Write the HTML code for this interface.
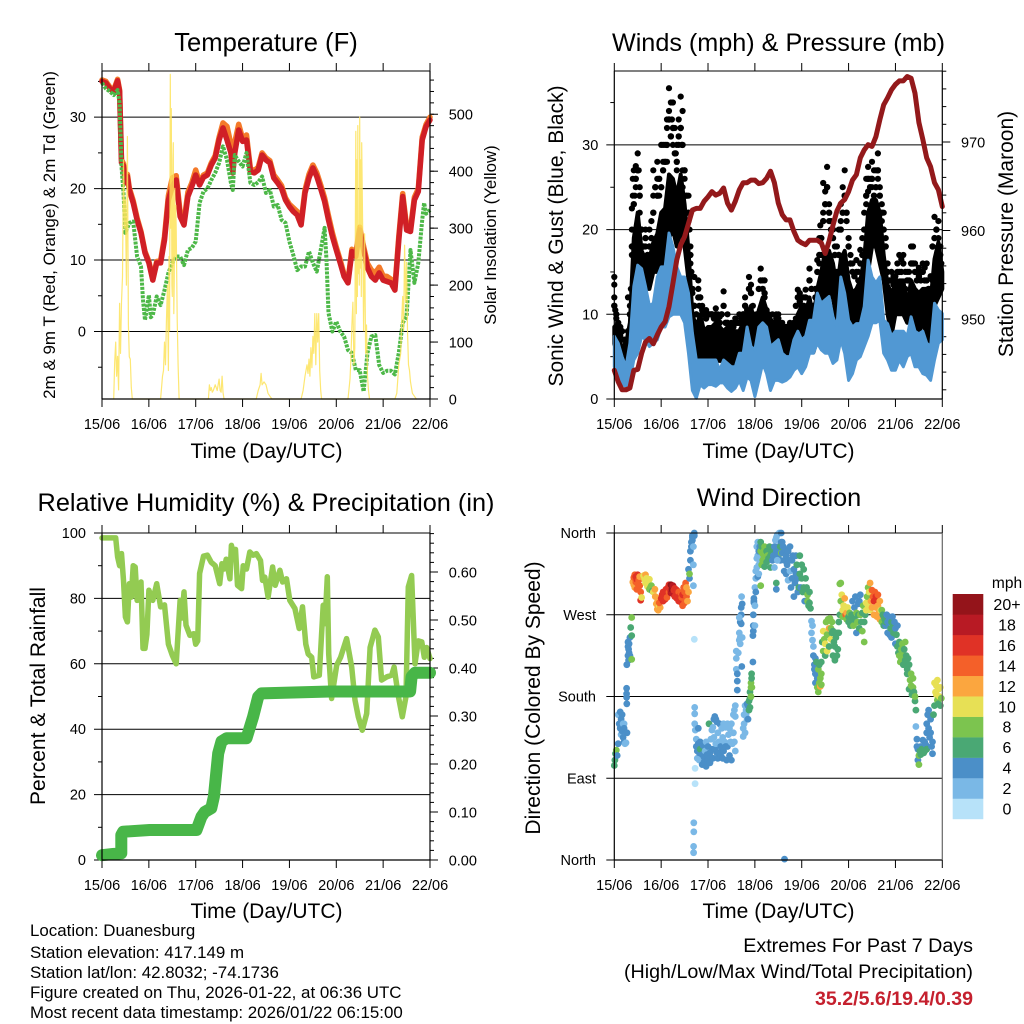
<!DOCTYPE html>
<html lang="en">
<head>
<meta charset="utf-8">
<title>Station Weather Summary</title>
<style>
html,body{margin:0;padding:0;background:#fff;width:1024px;height:1024px;overflow:hidden}
svg{display:block}
text{font-family:"Liberation Sans",Arial,sans-serif;fill:#000}
</style>
</head>
<body>
<svg id="figure" xmlns="http://www.w3.org/2000/svg" width="1024" height="1024" viewBox="0 0 1024 1024">
  <rect x="0" y="0" width="1024" height="1024" fill="#fff"/>
  <g id="p1"></g>
  <g id="p2"></g>
  <g id="p3"></g>
  <g id="p4"></g>
  <g id="cb"></g>

  <text x="266" y="51" font-size="25.6" text-anchor="middle">Temperature (F)</text>
  <text x="778.5" y="51" font-size="25.2" text-anchor="middle">Winds (mph) &amp; Pressure (mb)</text>
  <text x="266" y="511" font-size="25.3" text-anchor="middle">Relative Humidity (%) &amp; Precipitation (in)</text>
  <text x="779" y="506" font-size="25.3" text-anchor="middle">Wind Direction</text>

  <text x="266.5" y="458" font-size="21" text-anchor="middle">Time (Day/UTC)</text>
  <text x="778.5" y="458" font-size="21" text-anchor="middle">Time (Day/UTC)</text>
  <text x="266.5" y="918" font-size="21" text-anchor="middle">Time (Day/UTC)</text>
  <text x="778.5" y="918" font-size="21" text-anchor="middle">Time (Day/UTC)</text>

  <text transform="translate(55,235) rotate(-90)" font-size="17" text-anchor="middle">2m &amp; 9m T (Red, Orange) &amp; 2m Td (Green)</text>
  <text transform="translate(496,235) rotate(-90)" font-size="16.8" text-anchor="middle">Solar Insolation (Yellow)</text>
  <text transform="translate(563,236) rotate(-90)" font-size="21" text-anchor="middle">Sonic Wind &amp; Gust (Blue, Black)</text>
  <text transform="translate(1013,234) rotate(-90)" font-size="21" text-anchor="middle">Station Pressure (Maroon)</text>
  <text transform="translate(45,696) rotate(-90)" font-size="21" text-anchor="middle">Percent &amp; Total Rainfall</text>
  <text transform="translate(540,698) rotate(-90)" font-size="21" text-anchor="middle">Direction (Colored By Speed)</text>

  <text x="30" y="936" font-size="16.9">Location: Duanesburg</text>
  <text x="30" y="958" font-size="16.9">Station elevation: 417.149 m</text>
  <text x="30" y="978" font-size="16.9">Station lat/lon: 42.8032; -74.1736</text>
  <text x="30" y="998" font-size="16.9">Figure created on Thu, 2026-01-22, at 06:36 UTC</text>
  <text x="30" y="1018" font-size="16.9">Most recent data timestamp: 2026/01/22 06:15:00</text>
  <text x="973" y="952" font-size="19.7" text-anchor="end">Extremes For Past 7 Days</text>
  <text x="973" y="978" font-size="19.7" text-anchor="end">(High/Low/Max Wind/Total Precipitation)</text>
  <text x="973" y="1005" font-size="19.6" font-weight="bold" text-anchor="end" style="fill:#c5202e">35.2/5.6/19.4/0.39</text>
</svg>
<script>
const dayLabels = ['15/06','16/06','17/06','18/06','19/06','20/06','21/06','22/06'];
const tempTicks = [0,10,20,30];
const tempMinorTicks = [-5,5,15,25,35];
const solarTicks = [0,100,200,300,400,500];
const mphTicks = [0,10,20,30];
const mphMinorTicks = [5,15,25,35];
const pressureTicks = [950,960,970];
const rhTicks = [0,20,40,60,80,100];
const rhMinorTicks = [10,30,50,70,90];
const precipTicks = [0,0.1,0.2,0.3,0.4,0.5,0.6];
const precipLabels = ['0.00','0.10','0.20','0.30','0.40','0.50','0.60'];
const directionTicks = [0,90,180,270,360];
const directionLabels = ['North','East','South','West','North'];
const speedLabels = ['0','2','4','6','8','10','12','14','16','18','20+'];
const speedColors = ['#b7e2f9','#7ab8e6','#4b8fc8','#4aa874','#7cc44f','#e7e055','#fba63f','#f46029','#e03226','#b81a24','#94141a'];

const tempHours = [
0,2,4,6,8,9,10,11,12,13,
14,16,18,20,22,24,26,28,30,32,
34,36,38,40,42,44,46,48,50,52,
54,56,58,60,62,64,66,67,68,70,
72,74,76,78,80,82,84,86,88,90,
92,94,96,98,100,102,104,106,108,110,
112,114,116,118,120,122,124,126,128,130,
132,134,136,138,140,142,144,146,148,150,
152,154,156,158,160,162,164,166,168];
const temp2m = [
35,34.8,34,33.6,35.1,33.6,23.6,23.2,20.8,21.7,
19.8,18,15.6,13.8,11,9.6,7.2,9.6,9.6,12.8,
18.4,20.3,21.2,16.1,14.9,18.9,20.3,21.9,20.5,21.6,
21.9,23.3,24.3,26.8,28.5,26.8,25,22.2,25,28.2,
26.6,26.8,22.4,22.2,22.6,24.7,24,23.6,21.5,20.8,
20,18.4,17.5,16.8,16.3,14.9,19.4,21.5,22.9,21.7,
20,18.2,15.6,13.3,11.4,9.6,7.7,6.8,11.2,10.5,
14.2,11.4,8.9,7.7,7.2,8.2,7.2,7,6.8,5.8,
12.8,18.9,14.2,14,18.4,19.6,26.8,28.7,29.6];
const temp9m = [
35.2,35,34.2,33.8,35.3,33.8,24,23.5,21.2,22,
20.1,18.3,15.9,14,11.2,9.8,7.4,9.8,9.9,13.3,
19,21.5,21.8,16.7,15.4,19.5,20.8,22.6,20.8,21.9,
22.2,23.6,24.6,27.2,29.2,28.7,26.2,24,26.5,29,
27,27.5,22.8,22.5,23,25,24.3,23.9,21.9,21.2,
20.4,18.7,17.8,17.3,16.8,15.3,19.8,22,23.3,22.2,
20.5,18.7,16.2,13.8,11.8,10,8,7.1,11.5,10.9,
14.6,11.9,9.5,8.6,8.2,9,7.8,7.7,7.3,6.2,
13.3,19.3,14.7,14.4,18.8,20,27.2,29,30];
const dewHours = [
0,2,4,6,8,9,10,11,12,14,
16,18,20,21,22,24,25,26,28,30,
32,34,36,38,40,42,44,46,48,50,
52,54,56,58,60,62,64,66,67,68,
70,72,74,76,78,80,82,84,86,88,
90,92,94,96,98,100,102,104,106,108,
110,112,114,115,116,118,120,122,124,126,
128,130,132,134,136,138,140,142,144,146,
148,150,152,154,156,158,160,162,164,165,166,168];
const dewPoint = [
34.8,34,33.6,33.1,33.8,32,23.1,19.4,13.8,15.2,
15.4,10.5,9.1,4.4,1.6,5.1,2,2.3,4.9,3.7,
5.8,8.2,9.6,10.5,10.5,9.3,11.4,11.7,12.6,18,
19.6,20,21.2,22.2,23.6,25.9,24,20.8,19.8,24.7,
23.8,23.1,25,20.8,20.5,20.9,21.7,19.4,19.8,17.5,
17.7,15.6,15.2,12.6,10.7,8.6,9.1,9.1,11.2,9.6,
8.4,11.4,14.5,10,2.6,0,1.4,0,-0.7,-2.6,
-3,-5.4,-5.4,-8.4,-3,-0.7,-0.5,-4.7,-5.8,-5.5,
-5.5,-6,-3,1.2,2.1,11.4,6.8,9.6,15.6,18,16.5,17];
const solarHours = [
6,6.5,7,7.5,8,8.5,9,9.5,10,10.5,11,11.5,12,12.5,13,13.5,14,14.5,15,15.5,
30,31,31.5,32,32.5,33,33.5,34,34.3,34.6,35,35.3,35.5,35.8,36,36.3,36.5,36.8,37,37.3,37.5,37.8,38,38.5,39,39.5,
54.5,55,55.5,56,56.5,57,58,58.5,59,60,60.5,61,61.5,62,62.5,
79,80,81,81.5,82,83,84,85,86,87,
102,103,104,105,105.5,106,106.5,107,107.5,108,108.5,109,109.5,110,110.5,111,111.5,112,112.5,
126,127,127.5,128,128.5,129,129.5,130,130.3,130.5,130.8,131,131.3,131.5,131.8,132,132.3,132.5,132.8,133,133.5,134,134.5,135,135.5,136,136.5,137,
150,151,152,153,153.5,154,154.5,155,155.5,156,156.5,157,157.5,158,159,160,161];
const solarValues = [
0,65,100,40,75,16,168,80,170,215,420,300,350,200,461,130,74,70,20,0,
0,40,50,100,60,135,200,50,250,120,570,300,510,200,180,420,450,150,200,370,250,340,300,140,60,0,
0,25,15,20,12,15,25,20,15,35,15,12,40,12,0,
0,15,25,45,25,30,25,10,5,0,
0,15,40,60,45,70,40,90,55,110,80,150,60,150,100,150,50,15,0,
0,35,70,130,170,60,90,470,150,420,180,480,220,300,200,495,230,420,180,450,310,120,290,80,130,40,15,0,
0,10,60,80,140,180,120,270,170,240,120,60,50,30,10,5,0];

const windHours = [
0,2,4,6,8,10,12,14,16,18,
20,22,24,26,28,30,32,34,36,38,
40,42,44,46,48,50,52,54,56,58,
60,62,64,66,68,70,72,74,76,78,
80,82,84,86,88,90,92,94,96,98,
100,102,104,106,108,110,112,114,116,118,
120,122,124,126,128,130,132,134,136,138,
140,142,144,146,148,150,152,154,156,158,
160,162,164,166,168];
const sonicHigh = [
7.4,6.6,5,3.8,6.6,13.3,15.8,15.4,13.3,11,
11.3,14.4,15.6,15.6,19.6,18,15.6,14.4,14.4,12.5,
7.8,4.6,4.6,4.6,4.6,4.6,4.6,3.4,4.6,4.2,
3.8,3.8,5.4,5.4,8.5,6.2,5.8,8.5,9,8.5,
6.2,6.6,7,5.4,5,5,7,8,7,7.4,
9.3,9.3,12.5,11.3,11.7,12.1,9.7,8.5,14.4,12.5,
9.3,8.5,8.9,8.9,10.9,16.4,14.4,13.7,14.4,9.3,
8.9,7.4,8,8,8,7.4,9.7,8,7.7,8,
6.6,6.2,11.3,10.5,10.1];
const sonicLow = [
3.8,2.2,1.7,1.5,2.2,4.6,5.4,7.4,7,6.2,
6.6,7,8.5,8.5,9.7,10,10,10,9,5.4,
1,0.1,1.7,1.3,1.7,1.7,1.5,1.9,1.9,1.3,
0.9,1.3,2.2,1,2.6,2.2,0.3,2.2,4.2,3,
1,2.2,2.2,2,2.2,2.6,3.4,3.8,3,3.8,
5.4,5.4,6.6,5.8,5.4,5.4,4.2,4.6,7,5.4,
2.2,3,4.6,5,6.2,7.4,9,9,9.3,5.4,
4.6,3.4,3.4,4.6,3.8,5,5.4,3.8,3.8,3,
2.8,2.2,4.6,6.6,7];
const gustBandHigh = [
8.5,7.5,6,6.5,9,19,22,17.5,16.5,16.5,
18.5,19.5,22,22.5,26.5,26,24,26.5,23,17.5,
10,8.5,10,8,8.5,8.5,9,8.5,8,8.5,
8,8,8,9,10,11,8.5,10.5,12,10.5,
9.5,8.5,9,8,8,8,8,10,11,10,
12,9.5,13,15,17.5,17.5,16,13,16.5,17.5,
14,12.5,13,14,16.5,22,23.5,23.5,22,17,
13.5,12.5,13.5,14,14,11,14,13,12.5,13,
13,11.5,16.5,18.5,15];
const gustBandLow = [
6.5,5,3,2.5,4.5,10,14,13,13,13,
15,15,15,17,19,20,18,20,18,14,
5,2,5,5,5,5,4.5,4.5,4.5,4,
3,3.5,4.5,5,5.5,6,2,8,8,8,
6,5,6,5,4.5,4.5,4.5,6,6,6,
6,5.5,7,10,12,12,12,9,12,12,
9,8,7.5,8.5,12,15,18,18,16,14,
10,7.5,10,10,10,9,9,8.5,7.5,9.5,
7,6,11,12,13];
const gustMidHours = [
0,1,2,3,4,5,6,7,8,9,
10,11,12,13,14,15,16,17,18,19,
20,21,22,23,24,25,26,27,28,29,
30,31,32,33,34,35,36,37,38,39,
40,41,42,43,44,45,46,47,48,49,
50,51,52,53,54,55,56,57,58,59,
60,61,62,63,64,65,66,67,68,69,
70,71,72,73,74,75,76,77,78,79,
80,81,82,83,84,85,86,87,88,89,
90,91,92,93,94,95,96,97,98,99,
100,101,102,103,104,105,106,107,108,109,
110,111,112,113,114,115,116,117,118,119,
120,121,122,123,124,125,126,127,128,129,
130,131,132,133,134,135,136,137,138,139,
140,141,142,143,144,145,146,147,148,149,
150,151,152,153,154,155,156,157,158,159,
160,161,162,163,164,165,166,167];
const gustMidValues = [
11,10,9,8.5,8,7,6.5,8,10,18,
23,26,27,24,20,18,19,17,18,19,
22,25,24,26,25,27,28,30,33,31,
32,29,28,31,32,30,27,24,22,17,
13,11,10,12,12,10.5,10,9.5,10,10,
10,9.5,10,9.5,9,10,11,9,9,8.5,
8.5,8.5,9,9,9,9.5,10,11,10,13,
12.5,10,8,10,13,14,13,12.5,10,9.5,
9,8.5,9,9.5,9.5,9,8.5,8,8.5,8.5,
8.5,8,9,11,12,11.5,11,11,12,10,
14,13,11,12,15,17,19,21,23,25,
22,20,19,17,15,17,20,22,24,22,
18,16,15,14.5,15,14,16,17,20,24,
26,25,26,24,25,27,24,22,20,18,
15,14,14,13.5,14,15,15,15,16,13,
14,14,16,16,15,14,14.5,14,15,14,
14,13,13,18,19,20,18,16];
const gustHours = [
0,0,0,0,0.5,1,1,2,3,5,7,8,8.5,9,9,9,9.5,9.5,10,10.5,
11,11,12,12.5,13,13,14,15,16,16,18,19,20,20,21,22,22,23,24,25,
25,26,27,27,27,28,28,29,29.5,29,30,30,31,31.5,32,32,33,33,34,34,
34.5,35,35,35,36,36,37,38,38,38.5,39,39,39.5,40,41,41,43,43,43.5,44,
45,47,47,48,50,52,53,54,56,58,60,62,64,66,67,67,68,69,69,70,
71,73,75,76,77,77,78,79,81,83,84,86,88,90,92,93,94,95,96,97,
98,99,100,100,101,102,103,104,105,105.5,105,106,107,107,108,109,109,110,110,111,
112,113,113,114,115,116,116,117,118,118,119,120,121,122,124,125,126,127,128,129,
129,130,130,131,132,132,133,134,135,135,136,137,137,138,139,140,142,143,144,145,
146,147,148,149,150,151,152,153,154,155,156,157,158,159,160,162,163,164,165,166,166,167,167,167.5];
const gustValues = [
14.4,13.5,12,11,10.5,9.5,8.6,8,7.5,7,12,11,13,17,20,22.5,24,26,27,24,
25,27.5,29,27,25,22,17,14,20,18,20,21,24,27,25,28,26,24,30,28,
30,30,28,32,33,36.7,34,35,33,31,35,30,32,29,30,27,30,33,35.7,32,
30,34,27,25,26,24,22,24,21,20,18,16,15,12.5,11,14.4,14,13,11,12,
11,10.5,10,10,10,10.7,10,9.7,12.7,10,9,9.5,10,10,12,11,10.5,14.4,13,13.5,
11,9.7,15.4,14,14,12,10.5,10,10,10,10,9,8.5,9,8.9,9.5,12.9,12.5,12,12,
12.9,11,15.4,14,13,11,13,16.4,16,20.5,19,17,22,25.5,24.5,27.4,25,23,21,21,
20,18,17,18,20,23,21,25,27,24,21,19,17,16,16.4,15,17.6,19,22,23,
26,24.5,27.4,26,28,25,27,27,29,26,25,23,21,22,19,16,15,14.5,14.5,16,
17,16.5,17,15,15,15,18,18,16,15,15.5,15,16,15.5,16,14.5,14,21.5,20,21,19,18,17,16];
const pressureValues = [
944.2,942.9,942,942,942.2,944.2,944.3,946.1,947.4,947.8,
947.2,948.2,949.1,949.7,951.4,954,956.7,958.4,959.3,960.8,
962.3,962.5,962.5,963.3,963.8,964.4,964,964.2,964.8,963.1,
962.3,963.3,964.6,965.4,965.4,965.7,965.7,965.3,965.4,965.9,
966.7,965.4,963.1,961.8,961.2,961.2,959.9,958.9,958.6,958.4,
958.9,958.9,958.9,958.6,957.4,958.8,960.6,962.2,963.1,963.5,
964.4,965.7,966.3,968.2,969.1,969.7,969.5,970.6,972.5,974.2,
975,975.9,976.5,976.9,976.9,977.4,977.2,975.5,972.2,970.3,
968.2,967.2,965.4,964.6,962.7];

const rhHours = [
0,6,7,8,9,10,11,12,13,14,
15,16,17,18,20,21,22,23,24,26,
28,30,32,34,36,38,40,41,42,43,
45,47,48,49,50,52,54,56,58,60.3,
61.4,62.6,63.6,65.5,66.3,67.4,68.4,69.4,71.5,72.3,
74,75.7,77.4,79.1,81.2,82.2,83.4,85.1,87.4,88.7,
91.1,92.5,94.5,96.2,98.8,101,102.7,104.4,105.6,107.4,
108.5,111.3,113.3,114.2,115.4,116.1,117.6,120.2,122.2,125.3,
127.9,129.6,131.3,133.3,135.6,137.3,139.8,141.5,143.2,145.8,
148.4,149.6,150.6,151.8,153.8,155.7,156.9,158.6,160.3,162,
163.8,165.1,166.3,168];
const rhValues = [
98.5,98.5,98.5,92.7,90,93.7,85.5,74.3,72.8,84.5,
80.4,90,89.6,79.4,85,64.7,64.7,69,82.5,79.4,
84.5,77.4,78,66,62.6,60,79.4,74,82,71.8,
68.7,69.2,66,67,87.6,92.9,93.2,91,90,84.5,
90.6,89,92,86,96.2,93.7,95,84,83,90,
89,94.2,93.2,93.7,91.6,85.5,86.5,80.4,89.6,84,
88.6,85,86,79.4,76.9,70.8,77.4,66,63,62,
56,56.5,77.9,72.3,86.6,63,49.4,59.6,62,67.7,
59,48.9,43.8,39.7,44.8,65,70.3,68.2,55,56,
56.5,59,55,50,43.8,50,83.5,87,60,67,
66.7,62,65,61.6];
const precipHours = [0,5.6,9.9,9.9,10.8,24.4,48.4,50.9,52.6,56,57.3,59.5,61.2,63.8,74,77.4,80,81.7,116.8,157.8,158.6,160.3,168];
const precipValues = [0.01,0.0125,0.014,0.052,0.059,0.0625,0.0625,0.09,0.10,0.108,0.132,0.222,0.247,0.2535,0.2535,0.2986,0.34,0.347,0.351,0.351,0.382,0.39,0.39];

const dirHours = [
0,0.3,0.6,1,1.5,2,2,2.5,3,3,3.5,3.5,
4,4,4.5,4.5,5,5,5,5.5,6,6.5,6.3,6.3,
6.3,6.4,6.4,7,7,7,7.3,7.3,7.6,7.6,8,8,
8.4,8.9,8.9,8.9,9.5,10,10,10.5,10.5,11,11,11.5,
11.5,12,12,12.5,13,13,13.5,13.5,14,15,15.5,16,
16,16.5,17,17,17.5,18,18,18.5,19,19.5,20,20.8,
21,21.5,22,22,22.5,23,23,23.5,23,24,24.5,25,
25,25.5,26,26,26.5,27,27,27.5,28,28,28.5,29,
29,29.5,30,30,30.5,31,31,31.5,32,32,32.5,33,
33,33.5,34,34,34.5,35,35,35.5,36,36,36.5,37,
37,37.5,38,38,38.5,38.5,39,39,39.5,39.5,40,40,
40,40.5,40.5,40.5,41,41,41,41.2,41.2,41.2,41.4,41.4,
40.7,40.7,40.6,40.6,41.5,42,42,42.5,42.5,43,43,43.5,
43.5,44,44,45,45,45.5,46,46,46.5,47,47,47.5,
48,48,48.5,49,49,49.5,49.5,50,50,50.5,50.5,51,
51,51.5,51.5,52,52,52.5,52.5,53,53,53.5,53.5,54,
54,54.5,54.5,55,55,55.5,55.5,56,56,56.5,57,57,
57.5,58,58,58.5,59,59,59.5,60,60,60.5,61,61,
61.5,61.5,62,62,62,62.5,62.5,62.5,63,63,63,63.5,
64,64,64.5,64.5,64.5,65,65,65,65.2,65.5,65.5,64,
66,66,66.5,66.5,67,67,67.5,67.5,68,68,68.5,68.5,
65.3,69,69,69.5,69.5,69.5,70,70,70,70.3,70.3,70.5,
71,71,71.2,71.2,71.2,71.5,71.5,71.5,72,72,72,72.5,
72.5,72.5,73,73,73,73.5,73.5,73.5,74,74,74,74.5,
74.5,75,75,75,75.5,75.5,76,76,76.5,76.5,77,77,
78,78,78.5,79,79.5,80,80,80.5,81,81,81.5,82,
82,82.5,83,83,83.5,84,84,84.5,85,85,85.5,85.5,
83,83,83.5,85,85.5,86,86,86.5,87,87,87.5,88,
88,88.5,89,89,89.5,90,90,90.5,91,91,91.5,92,
92,92.5,93,93,93.5,94,94,94.5,95,95,95.5,96,
96,96.5,97,97,97.5,98,98,98.5,99,99,99.5,100,
100,100.5,101,101,101.5,101.5,102,102,102.5,102.5,103,103,
103,103.5,104,104,104.5,104.5,105,105,105.5,105.5,106,106,
106,106.5,107,107,107.5,108,108,108.5,109,109,109.5,110,
110,110.5,111,111,111.5,111.5,112,112,112.5,113,113,113.5,
114,114,114.5,115,115,115.5,115.5,116,116,116.5,117,117,
117.5,118,118,118.5,119,119,119.5,120,120,120.5,121,121,
121.5,122,122,122.5,123,123,123.5,124,124,124.5,125,125,
125.5,125.5,126,126,126.5,127,127,127.5,128,128,128.5,129,
129,129.5,130,130,130.5,131,131,131.5,132,132,132.5,133,
133,133.5,134,134,134.5,135,135,135.5,136,136,136.5,137,
137,137.5,138,138,138.5,139,139,139.5,140,140,140.5,141,
141,141.5,142,142,142.5,143,143,143.5,144,144,144.5,145,
145,145.5,146,146,146.5,147,147,147.5,148,148,148.5,149,
149,149.5,150,150,150.5,151,151,151.5,152,152,152.5,153,
153,153.5,154,154,154.5,154.5,155,155,155.5,155.5,156,156,
156.5,157,157,157.5,158,158,158.5,159,159,159.5,160,160,
160,160.5,161,161,161.5,162,162,162.5,163,163,163.5,164,
164,164.5,165,165,165.5,165.5,166,166,166.5,167,167,167.5,
87.2];
const dirDegrees = [
104,110,117,121,115,128,160,150,163,145,155,138,
160,142,150,135,150,130,145,128,129,140,189,183,
179,172,215,240,235,225,232,220,238,228,245,225,
256,247,221,267,306,311,303,314,300,312,306,309,
298,314,304,308,302,312,286,295,289,313,309,314,
305,310,307,301,304,309,298,300,302,296,295,298,
290,282,276,284,275,280,288,278,283,288,292,285,
295,290,293,287,298,295,289,300,303,295,298,303,
294,298,302,293,297,299,290,295,297,288,293,295,
285,291,294,284,289,280,292,300,283,295,305,290,
300,285,295,320,310,315,330,340,345,350,352,355,
357,345,325,302,360,357,243,168,161,150,101,84,
41,31,15,8,143,133,125,120,112,145,128,118,
110,130,122,116,105,126,113,108,120,103,130,116,
110,125,150,118,107,133,113,143,122,146,112,155,
135,158,122,155,128,152,118,140,112,130,118,150,
130,125,115,145,122,135,112,150,120,130,146,125,
110,150,125,138,145,115,130,150,110,128,160,140,
165,130,170,158,120,230,222,210,205,197,187,228,
250,242,245,238,262,270,260,278,290,282,245,267,
136,145,150,160,170,140,160,165,172,155,170,155,
213,165,175,168,178,185,180,190,195,200,205,190,
218,247,252,258,270,285,283,288,258,280,300,295,
310,318,345,332,322,335,350,312,340,325,315,345,
330,350,340,302,345,325,337,330,340,332,323,345,
340,328,335,332,345,335,322,338,343,330,335,322,
345,352,355,340,358,345,335,360,340,330,350,360,
305,298,330,345,338,350,338,345,330,318,342,335,
315,325,340,308,330,345,318,300,330,310,335,290,
320,305,335,315,325,310,295,300,315,335,300,325,
310,295,320,300,285,310,295,300,285,292,280,295,
283,277,263,250,258,242,235,225,215,210,222,205,
195,218,200,190,210,185,215,195,191,200,218,193,
205,240,230,252,243,238,225,262,248,230,265,235,
255,266,243,255,250,262,225,252,240,235,220,245,
225,250,232,262,250,304,270,305,285,292,275,268,
280,276,288,270,272,265,278,268,262,272,265,258,
270,285,262,258,278,265,290,272,250,262,270,282,
255,285,270,292,262,272,252,280,262,240,270,275,
283,290,300,280,295,305,275,285,297,278,290,270,
285,295,278,290,268,280,292,272,285,265,275,262,
275,270,268,258,265,258,262,270,250,262,268,248,
262,255,245,262,268,250,258,262,238,255,248,258,
235,228,225,240,218,232,222,238,225,215,232,220,
240,225,210,205,222,215,188,198,205,192,182,190,
200,185,175,180,165,147,133,125,122,110,115,105,
120,125,116,122,132,122,118,130,120,127,140,122,
150,160,145,165,135,155,140,125,117,130,160,170,
195,185,182,192,198,176,188,172,180,190,170,178,
1];
const dirSpeeds = [
6,6,6,7,4,3,2,3,4,3,4,2,
3,3,2,3,2,3,3,2,2,3,4,4,
4,4,4,4,4,4,4,4,4,4,4,4,
6,6,7,8,12,14,12,14,12,15,14,16,
14,16,14,13,14,12,16,14,10,10,10,11,
10,10,10,9,10,10,8,8,8,6,10,12,
12,12,12,12,11,10,12,12,14,16,16,16,
16,16,15,15,16,16,14,15,16,14,16,20,
18,20,18,18,16,16,16,16,15,15,15,14,
16,16,14,16,14,14,15,14,14,13,14,14,
12,12,12,4,4,8,4,4,4,4,4,4,
4,2,2,2,3,3,0,1,1,1,0,0,
2,2,2,2,1,2,4,4,2,4,4,4,
1,3,6,4,4,4,4,4,2,4,2,4,
4,4,6,4,4,2,4,2,4,2,4,4,
2,4,4,4,2,4,4,2,4,2,4,4,
2,4,4,2,4,2,4,2,4,2,2,4,
4,2,4,2,2,4,2,2,4,2,2,2,
2,1,2,2,1,2,2,2,4,4,4,2,
2,2,2,2,4,4,4,4,2,4,2,2,
2,2,1,2,2,2,2,2,4,2,4,4,
4,6,6,6,6,6,8,7,8,6,6,7,
4,4,4,4,4,4,4,4,2,2,2,4,
2,2,2,2,2,2,2,4,4,2,2,4,
2,6,7,7,6,7,8,7,7,8,6,7,
6,6,7,6,6,6,6,6,6,4,4,2,
4,2,2,4,2,4,4,2,4,4,4,4,
6,4,2,6,8,4,4,4,4,4,4,4,
4,4,4,2,4,4,2,4,4,4,4,4,
4,4,4,4,6,4,4,6,6,6,4,6,
6,6,6,6,4,6,6,6,7,7,6,6,
6,6,2,2,2,2,2,4,4,4,4,4,
4,6,4,8,8,8,6,8,12,8,6,8,
8,6,8,10,8,10,6,8,8,10,8,6,
12,8,10,8,6,8,6,6,6,6,6,6,
6,6,6,6,6,8,6,8,8,10,10,8,
10,10,12,14,12,8,10,6,6,8,6,6,
6,4,6,8,4,6,4,8,4,8,6,4,
6,4,8,4,6,6,8,8,6,8,6,10,
10,8,8,10,10,12,10,12,14,12,14,12,
16,14,12,16,12,12,14,12,12,12,10,8,
8,6,6,6,6,4,6,4,4,4,4,4,
4,6,4,6,4,6,6,4,4,4,6,4,
6,6,8,6,8,8,8,8,8,6,6,6,
8,6,6,6,6,6,6,8,8,8,6,8,
8,6,6,8,6,2,4,4,4,4,8,8,
6,4,6,6,4,6,6,4,6,4,4,6,
4,4,4,4,4,4,4,4,4,4,6,6,
10,10,10,10,10,8,10,6,10,10,6,8,
4];

const SVG_NS = 'http://www.w3.org/2000/svg';
const dayStep = 328 / 7;
const xLeft = h => 102 + h * 328 / 168;
const xRight = h => 614.3 + h * 328 / 168;
const yTemp = v => 331.5 - v * 7.145;
const ySolar = v => 399 - v * 0.5695;
const yMph = v => 399 - v * 8.47;
const yPressure = v => 319 - (v - 950) * 8.85;
const yRH = v => 860 - v * 3.27;
const yPrecip = v => 860 - v * 480;
const yDirection = v => 860 - v * 327 / 360;

function seg(parent, x1, y1, x2, y2, name, width, color) {
  const el = document.createElementNS(SVG_NS, 'line');
  
  
  el.setAttribute('x1', x1);
  el.setAttribute('y1', y1);
  el.setAttribute('x2', x2);
  el.setAttribute('y2', y2);
  el.setAttribute('stroke', color || '#000');
  el.setAttribute('stroke-width', width || 1);
  parent.appendChild(el);
}
function label(parent, x, y, str, anchor, size, name) {
  const el = document.createElementNS(SVG_NS, 'text');
  
  
  el.setAttribute('x', x);
  el.setAttribute('y', y);
  el.setAttribute('text-anchor', anchor);
  el.setAttribute('font-size', size);
  el.textContent = str;
  parent.appendChild(el);
}
function polyline(parent, xs, ys, name, color, width, dash, opacity) {
  const el = document.createElementNS(SVG_NS, 'polyline');
  
  
  el.setAttribute('points', xs.map((x, i) => x.toFixed(1) + ',' + ys[i].toFixed(1)).join(' '));
  el.setAttribute('fill', 'none');
  el.setAttribute('stroke', color);
  el.setAttribute('stroke-width', width);
  el.setAttribute('stroke-linejoin', 'round');
  if (dash) {
    el.setAttribute('stroke-dasharray', dash);
  } else {
    el.setAttribute('stroke-linecap', 'round');
  }
  if (opacity) {
    el.setAttribute('stroke-opacity', opacity);
  }
  parent.appendChild(el);
  return el;
}
function band(parent, xs, highs, lows, name, color, width) {
  const el = document.createElementNS(SVG_NS, 'polygon');
  
  
  const top = xs.map((x, i) => x.toFixed(1) + ',' + highs[i].toFixed(1));
  const bottom = xs.map((x, i) => x.toFixed(1) + ',' + lows[i].toFixed(1)).reverse();
  el.setAttribute('points', top.concat(bottom).join(' '));
  el.setAttribute('fill', color);
  el.setAttribute('stroke', color);
  el.setAttribute('stroke-width', width);
  el.setAttribute('stroke-linejoin', 'round');
  parent.appendChild(el);
}
function dot(parent, x, y, r, color, name) {
  const el = document.createElementNS(SVG_NS, 'circle');
  
  
  el.setAttribute('cx', x.toFixed(1));
  el.setAttribute('cy', y.toFixed(1));
  el.setAttribute('r', r);
  el.setAttribute('fill', color);
  parent.appendChild(el);
}
function drawFrame(g, left, top, bottom, rightGrey) {
  const right = left + 328;
  seg(g, left, top, right, top, 'plot-top-border', 1);
  seg(g, left, bottom, right, bottom, 'plot-bottom-border', 1.2);
  seg(g, left, top, left, bottom, 'plot-left-border', 1.2);
  seg(g, right, top, right, bottom, 'plot-right-border', 1.2, rightGrey ? '#666' : '#000');
  dayLabels.forEach((d, i) => {
    const x = left + i * dayStep;
    seg(g, x, top - 8, x, top, 'top-day-tick', 1);
    seg(g, x, bottom, x, bottom + 8, 'bottom-day-tick', 1);
    label(g, x, bottom + 30, d, 'middle', 14.5, 'day-tick-label');
  });
}
function leftAxis(g, left, ticks, minor, scale, labels) {
  const right = left + 328;
  ticks.forEach((t, i) => {
    seg(g, left - 8, scale(t), right, scale(t), 'left-major-tick-gridline', 1);
    label(g, left - 16, scale(t) + 5, labels ? labels[i] : String(t), 'end', 14.5, 'left-tick-label');
  });
  minor.forEach(t => {
    seg(g, left - 4, scale(t), left, scale(t), 'left-minor-tick', 1);
  });
}
function rightAxis(g, right, ticks, labels, scale, minorFrom, minorTo, minorStep) {
  ticks.forEach((t, i) => {
    seg(g, right, scale(t), right + 8, scale(t), 'right-major-tick', 1);
    label(g, right + 18.7, scale(t) + 5.3, labels[i], 'start', 14.5, 'right-tick-label');
  });
  for (let t = minorFrom; t <= minorTo + 1e-6; t += minorStep) {
    seg(g, right, scale(t), right + 4, scale(t), 'right-minor-tick', 1);
  }
}

/* Temperature panel */
const p1 = document.getElementById('p1');
leftAxis(p1, 102, tempTicks, tempMinorTicks, yTemp);
rightAxis(p1, 430, solarTicks, solarTicks.map(String), ySolar, 0, 560, 20);
polyline(p1, tempHours.map(xLeft), temp9m.map(yTemp), 'temperature-9m-line', '#f47a2a', 5.5);
polyline(p1, tempHours.map(xLeft), temp2m.map(yTemp), 'temperature-2m-line', '#d01f26', 5.5);
polyline(p1, dewHours.map(xLeft), dewPoint.map(yTemp), 'dew-point-line', '#4db848', 4, '3 1.2');
polyline(p1, solarHours.map(xLeft), solarValues.map(ySolar), 'solar-insolation-line', '#fde35a', 1.2, null, 0.85);
drawFrame(p1, 102, 71, 399);

/* Winds panel */
const p2 = document.getElementById('p2');
leftAxis(p2, 614.3, mphTicks, mphMinorTicks, yMph);
rightAxis(p2, 942.3, pressureTicks, pressureTicks.map(String), yPressure, 942, 978, 2);
band(p2, windHours.map(xRight), gustBandHigh.map(yMph), gustBandLow.map(yMph), 'gust-dense-band', '#000', 4);
gustMidHours.forEach((h, i) => {
  dot(p2, xRight(h), yMph(gustMidValues[i]), 3.2, '#000', 'gust-mid-point');
});
gustHours.forEach((h, i) => {
  dot(p2, xRight(h), yMph(gustValues[i]), 3.1, '#000', 'gust-point');
});
band(p2, windHours.map(xRight), sonicHigh.map(yMph), sonicLow.map(yMph), 'sonic-wind-band', '#5198d3', 3);
polyline(p2, windHours.map(xRight), pressureValues.map(yPressure), 'station-pressure-line', '#93191b', 5);
drawFrame(p2, 614.3, 71, 399);

/* Humidity panel */
const p3 = document.getElementById('p3');
leftAxis(p3, 102, rhTicks, rhMinorTicks, yRH);
rightAxis(p3, 430, precipTicks, precipLabels, yPrecip, 0, 0.68, 0.02);
polyline(p3, rhHours.map(xLeft), rhValues.map(yRH), 'relative-humidity-line', '#93cb52', 5.5);
polyline(p3, precipHours.map(xLeft), precipValues.map(yPrecip), 'total-precipitation-line', '#48b648', 12);
drawFrame(p3, 102, 533, 860);

/* Wind direction panel */
const p4 = document.getElementById('p4');
directionTicks.forEach((t, i) => {
  seg(p4, 606.3, yDirection(t), 942.3, yDirection(t), 'direction-gridline', 1);
  label(p4, 596, yDirection(t) + 5, directionLabels[i], 'end', 14.5, 'direction-tick-label');
});
dirHours.forEach((h, i) => {
  const bin = Math.min(speedColors.length - 1, Math.round(dirSpeeds[i] / 2));
  dot(p4, xRight(h), yDirection(dirDegrees[i]), 3.4, speedColors[bin], 'wind-direction-point');
});
drawFrame(p4, 614.3, 533, 860, true);

/* Colour bar */
const cb = document.getElementById('cb');
label(cb, 1007, 588, 'mph', 'middle', 15.5, 'colorbar-unit-label');
speedLabels.forEach((s, i) => {
  const top = 819 - (i + 1) * 225 / 11;
  const box = document.createElementNS(SVG_NS, 'rect');
  
  
  box.setAttribute('x', 952.7);
  box.setAttribute('y', top);
  box.setAttribute('width', 30.6);
  box.setAttribute('height', 225 / 11 + 0.2);
  box.setAttribute('fill', speedColors[i]);
  cb.appendChild(box);
  label(cb, 1007, top + 16, s, 'middle', 16, 'colorbar-label');
});
</script>
</body>
</html>
